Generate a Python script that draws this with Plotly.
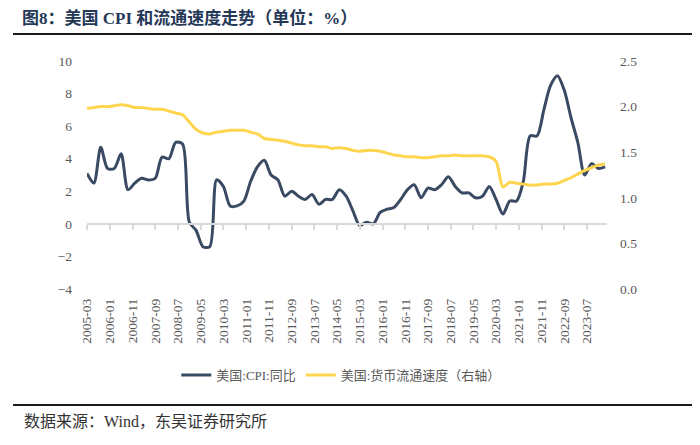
import pandas as pd
import plotly.graph_objects as go

dates = pd.date_range("2005-03-01", "2024-03-01", freq="3MS")

cpi_yoy = [3.1, 2.5, 4.7, 3.4, 3.4, 4.3, 2.1, 2.5, 2.8, 2.7,
           2.8, 4.1, 4.0, 5.0, 4.9, 0.1, -0.4, -1.4, -1.4, 2.7,
           2.3, 1.1, 1.1, 1.4, 2.6, 3.5, 3.9, 3.0, 2.7, 1.7,
           2.0, 1.7, 1.5, 1.8, 1.2, 1.5, 1.5, 2.1, 1.7, 0.8,
           -0.1, 0.1, 0.0, 0.7, 0.9, 1.0, 1.5, 2.1, 2.4, 1.6,
           2.2, 2.1, 2.4, 2.9, 2.3, 1.9, 1.9, 1.6, 1.7, 2.3,
           1.5, 0.6, 1.4, 1.4, 2.6, 5.4, 5.4, 7.0, 8.5, 9.1,
           8.2, 6.5, 5.0, 3.0, 3.7, 3.4, 3.5]

velocity = [1.98, 1.99, 2.00, 2.00, 2.01, 2.02, 2.01, 1.99, 1.99, 1.98,
            1.97, 1.97, 1.95, 1.93, 1.91, 1.83, 1.75, 1.71, 1.70, 1.72,
            1.73, 1.74, 1.74, 1.74, 1.72, 1.70, 1.65, 1.64, 1.63, 1.62,
            1.60, 1.58, 1.57, 1.57, 1.56, 1.56, 1.54, 1.55, 1.54, 1.52,
            1.51, 1.52, 1.52, 1.51, 1.49, 1.47, 1.46, 1.45, 1.45, 1.44,
            1.44, 1.45, 1.46, 1.46, 1.47, 1.46, 1.46, 1.46, 1.46, 1.45,
            1.40, 1.12, 1.17, 1.16, 1.15, 1.14, 1.14, 1.15, 1.15, 1.16,
            1.19, 1.22, 1.26, 1.30, 1.33, 1.36, 1.37]

tick_labels = ["2005-03", "2006-01", "2006-11", "2007-09", "2008-07", "2009-05",
               "2010-03", "2011-01", "2011-11", "2012-09", "2013-07", "2014-05",
               "2015-03", "2016-01", "2016-11", "2017-09", "2018-07", "2019-05",
               "2020-03", "2021-01", "2021-11", "2022-09", "2023-07"]
tick_vals = [t + "-01" for t in tick_labels]

left_ticks = [-4, -2, 0, 2, 4, 6, 8, 10]
right_ticks = [0.0, 0.5, 1.0, 1.5, 2.0, 2.5]

x_range = ["2005-03-01", "2024-03-26"]

SERIF = "Liberation Serif, Noto Sans CJK SC, serif"
GRAY = "#595959"

# page has an 8px body margin, so the figure is drawn 8px in from the top-left
W, H = 692, 437

fig = go.Figure()
fig.add_trace(go.Scatter(
    x=dates, y=cpi_yoy, name="美国:CPI:同比", mode="lines",
    line=dict(color="#3b4a63", width=3, shape="spline", smoothing=0.8),
    yaxis="y", xaxis="x"))
fig.add_trace(go.Scatter(
    x=dates, y=velocity, name="美国:货币流通速度（右轴）", mode="lines",
    line=dict(color="#ffd54f", width=3, shape="spline", smoothing=0.8),
    yaxis="y2", xaxis="x"))
# invisible helper trace so the zero-position axis (ticks) renders
fig.add_trace(go.Scatter(
    x=tick_vals, y=[0] * len(tick_vals), mode="lines", opacity=0,
    showlegend=False, hoverinfo="skip", xaxis="x2", yaxis="y"))

fig.update_layout(
    width=W, height=H,
    margin=dict(l=79, r=93, t=53, b=156),
    paper_bgcolor="white", plot_bgcolor="white",
    font=dict(family=SERIF, color=GRAY),
    title=dict(text="<b>图8：美国 CPI 和流通速度走势（单位：%）</b>",
               xref="container", yref="container", x=14 / W, y=1 - 10 / H,
               xanchor="left", yanchor="middle",
               font=dict(family=SERIF, size=17, color="#253858")),
    xaxis=dict(type="date", range=x_range, tickvals=tick_vals, ticktext=tick_labels,
               tickangle=-90, showgrid=False, showline=False, zeroline=False,
               ticks="", ticklabelstandoff=6,
               tickfont=dict(family=SERIF, size=13.5, color=GRAY)),
    xaxis2=dict(type="date", range=x_range, matches="x", overlaying="x",
                anchor="free", position=4 / 14, side="bottom",
                tickvals=tick_vals, showticklabels=False, showgrid=False,
                showline=True, linecolor="#d9d9d9", linewidth=1.5,
                ticks="outside", ticklen=5, tickcolor="#d9d9d9", tickwidth=1.5,
                zeroline=False),
    yaxis=dict(range=[-4, 10], tickvals=left_ticks, showgrid=False, zeroline=False,
               showline=False, ticklabelstandoff=14,
               tickfont=dict(family=SERIF, size=13.5, color=GRAY)),
    yaxis2=dict(range=[0, 2.5], tickvals=right_ticks, tickformat=".1f",
                overlaying="y", side="right", showgrid=False, zeroline=False,
                showline=False, ticklabelstandoff=12,
                tickfont=dict(family=SERIF, size=13.5, color=GRAY)),
    legend=dict(orientation="h", x=0.489, y=-0.377, xanchor="center", yanchor="middle",
                font=dict(family=SERIF, size=13, color=GRAY), bgcolor="rgba(0,0,0,0)"),
    showlegend=True,
)

# header and footer rules
fig.add_shape(type="line", xref="paper", yref="paper",
              x0=-74 / 520, x1=613 / 520, y0=(289 - 34) / 228, y1=(289 - 34) / 228,
              line=dict(color="#1a1a1a", width=2))
fig.add_shape(type="line", xref="paper", yref="paper",
              x0=-74 / 520, x1=613 / 520, y0=(289 - 405) / 228, y1=(289 - 405) / 228,
              line=dict(color="#1a1a1a", width=2))

fig.add_annotation(text="数据来源：Wind，东吴证券研究所",
                   xref="paper", yref="paper", x=(22 - 87) / 520, y=(289 - 421) / 228,
                   xanchor="left", yanchor="middle", showarrow=False,
                   font=dict(family=SERIF, size=16, color="#333333"))

fig.write_html("out.html")
